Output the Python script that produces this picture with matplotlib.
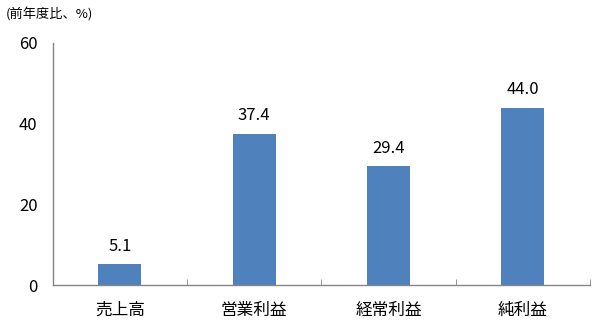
import matplotlib
matplotlib.use("Agg")
import matplotlib.pyplot as plt
from matplotlib.ticker import FixedLocator

plt.rcParams['font.family'] = ['Noto Sans CJK JP', 'DejaVu Sans']

categories = ["売上高", "営業利益", "経常利益", "純利益"]
values = [5.1, 37.4, 29.4, 44.0]
yticks = [0, 20, 40, 60]
ylabel = "(前年度比、%)"

fig = plt.figure(figsize=(6, 3.28), dpi=100)
ax = fig.add_axes([0.088, 0.131, 0.895, 0.738])

x = list(range(len(categories)))
bars = ax.bar(x, values, width=0.32, color="#4F81BD")
for xi, v in zip(x, values):
    ax.annotate(f"{v:.1f}", (xi, v), xytext=(0, 7), textcoords="offset points",
                ha="center", va="bottom", fontsize=12, color="#000000")

ax.set_xlim(-0.5, len(categories) - 0.5)
ax.set_ylim(0, 60)
ax.set_yticks(yticks)
ax.set_xticks(x)
ax.set_xticklabels(categories, fontsize=12)
ax.tick_params(axis="x", which="major", length=0, pad=12)
ax.xaxis.set_minor_locator(FixedLocator([i + 0.5 for i in x]))
ax.tick_params(axis="x", which="minor", direction="in", length=4, color="#868686")
ax.tick_params(axis="y", length=0, pad=11, labelsize=12)

for s in ["top", "right"]:
    ax.spines[s].set_visible(False)
for s in ["left", "bottom"]:
    ax.spines[s].set_color("#868686")
    ax.spines[s].set_linewidth(1.0)

fig.text(0.01, 0.955, ylabel, fontsize=9.5, ha="left", va="center")

fig.savefig("out.png", dpi=100)
